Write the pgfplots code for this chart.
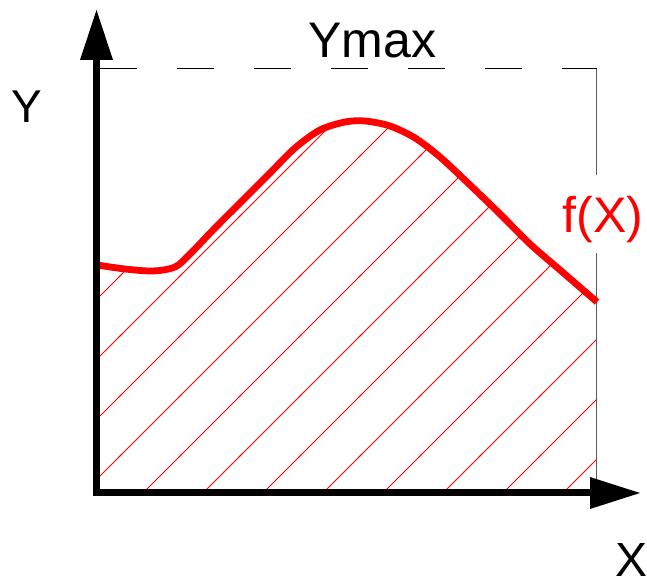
\documentclass[border=0pt]{standalone}
\usepackage{fontspec}
\setmainfont{Liberation Sans}
\usepackage{pgfplots}
\pgfplotsset{compat=1.18}
\usepgfplotslibrary{fillbetween}
\usetikzlibrary{patterns.meta}

% wide 45 degree hatching, one line per 60px tile
\tikzdeclarepattern{
  name=widehatch,
  type=uncolored,
  bounding box={(-1pt,-1pt) and (31pt,31pt)},
  tile size={(30pt,30pt)},
  code={\draw[line width=0.5pt] (-1pt,-1pt) -- (31pt,31pt);}
}

\pgfplotstableread{
x y
97 265
125 269
153 271
175 267
190 254
215 228
245 198
270 173
295 148
320 130
345 122
365 121
390 126
415 138
440 157
470 185
500 214
530 244
560 270
597 302
}\fcurve

\begin{document}
\begin{tikzpicture}
\begin{axis}[
  name=ax,
  scale only axis,
  width=323.5pt, height=288pt,
  xmin=0, xmax=647, ymin=0, ymax=576,
  y dir=reverse,
  hide axis,
  clip=false,
]
\addplot[draw=none, name path=f, smooth] table {\fcurve};
\addplot[draw=none, name path=base] coordinates {(97,492) (597,492)};
\addplot[pattern=widehatch, pattern color=red] fill between[of=f and base];

% Ymax dashed level and right border
\addplot[black, line width=0.5pt, dash pattern=on 18.5pt off 20pt] coordinates {(100,69) (597,69)};
\addplot[black!65, line width=0.6pt] coordinates {(596.5,69) (596.5,175)};
\addplot[black!65, line width=0.6pt] coordinates {(596.5,253) (596.5,492)};

% curve on top
\addplot[red, line width=3.4pt, smooth] table {\fcurve};

% axes with arrow heads
\addplot[black, line width=3.5pt] coordinates {(96.5,496) (96.5,58)};
\addplot[black, line width=3.5pt] coordinates {(93,492.5) (592,492.5)};
\addplot[black, fill=black, draw=none] coordinates {(80,60) (113,60) (96.5,10)} -- cycle;
\addplot[black, fill=black, draw=none] coordinates {(590,477) (590,509) (640,493)} -- cycle;

\node[anchor=base, font=\fontsize{23pt}{28pt}\selectfont] at (axis cs:26.5,123) {Y};
\node[anchor=base, font=\fontsize{25pt}{30pt}\selectfont] at (axis cs:372.5,58) {Ymax};
\node[anchor=base, text=red, font=\fontsize{25pt}{30pt}\selectfont] at (axis cs:603,233) {f(X)};
\node[anchor=base, overlay, font=\fontsize{24pt}{29pt}\selectfont] at (axis cs:631,577) {X};
\end{axis}
\pgfresetboundingbox
\path (ax.south west) rectangle (ax.north east);
\end{tikzpicture}
\end{document}
